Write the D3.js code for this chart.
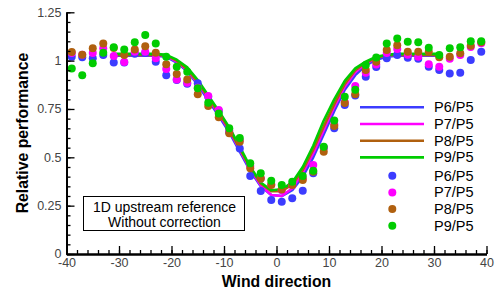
<!DOCTYPE html>
<html>
<head>
<meta charset="utf-8">
<script src="https://cdn.jsdelivr.net/npm/d3@7"></script>
<style>
  body { margin: 0; background: #fff; }
  text { font-family: "Liberation Sans", Arial, sans-serif; }
</style>
</head>
<body>
<svg id="chart"></svg>
<script>
// data
var angles = [-39,-37,-35,-33,-31,-29,-27,-25,-23,-21,-19,-17,-15,-13,-11,-9,-7,-5,-3,-1,
              1,3,5,7,9,11,13,15,17,19,21,23,25,27,29,31,33,35,37,39];
var p6Pts = [1.02,1.017,1.012,1.029,0.99,0.99,1.035,1.04,0.994,0.925,0.90,0.88,0.883,0.813,0.74,0.63,0.546,0.403,0.326,0.279,
             0.27,0.288,0.327,0.417,0.55,0.65,0.77,0.82,0.917,0.967,1.012,1.029,1.015,1.01,0.968,0.951,0.934,0.937,1.003,1.046];
var p7Pts = [1.04,1.03,1.04,1.064,1.024,0.993,1.046,1.046,1.012,0.957,0.903,0.886,0.86,0.817,0.745,0.64,0.589,0.455,0.39,0.36,
             0.33,0.355,0.39,0.46,0.55,0.67,0.785,0.869,0.937,0.98,1.04,1.06,1.03,1.02,0.981,0.968,1.01,1.029,1.07,1.09];
var p8Pts = [1.045,1.03,1.064,1.089,1.065,1.029,1.058,1.075,1.041,0.981,0.931,0.903,0.826,0.765,0.707,0.624,0.58,0.443,0.391,0.357,
             0.334,0.357,0.383,0.425,0.529,0.662,0.781,0.826,0.951,0.994,1.055,1.08,1.046,1.046,1.046,1.017,1.02,1.038,1.077,1.095];
var p9Pts = [0.959,0.925,0.986,1.041,1.069,1.058,1.095,1.132,1.089,1.02,0.968,0.943,0.857,0.782,0.727,0.65,0.6,0.469,0.417,0.379,
             0.357,0.374,0.403,0.431,0.555,0.69,0.813,0.85,0.977,1.016,1.089,1.115,1.098,1.095,1.067,1.029,1.064,1.069,1.1,1.1];

var lineAngles = [-31,-29,-27,-25,-23,-21,-19,-17,-15,-13,-11,-9,-7,-5,-3,-1,1,3,5,7,9,11,13,15,17,19,21,23,25,27,29,31];
var p6Line = [1.025,1.025,1.025,1.025,1.025,1.02,0.99,0.945,0.875,0.795,0.715,0.63,0.53,0.43,0.35,0.305,
              0.3,0.33,0.4,0.5,0.62,0.74,0.85,0.925,0.975,1.005,1.02,1.025,1.025,1.025,1.025,1.025];
var p7Line = [1.03,1.03,1.03,1.03,1.03,1.025,0.995,0.95,0.885,0.805,0.725,0.64,0.54,0.44,0.355,0.305,
              0.3,0.34,0.42,0.52,0.64,0.76,0.865,0.94,0.985,1.015,1.028,1.03,1.03,1.03,1.03,1.03];
var p8Line = [1.03,1.03,1.03,1.03,1.03,1.027,1.0,0.955,0.89,0.81,0.73,0.645,0.545,0.445,0.365,0.325,
              0.325,0.36,0.435,0.54,0.66,0.775,0.88,0.95,0.99,1.015,1.028,1.03,1.03,1.03,1.03,1.03];
var p9Line = [1.035,1.035,1.035,1.035,1.035,1.03,1.005,0.965,0.9,0.82,0.74,0.655,0.555,0.45,0.37,0.33,
              0.335,0.37,0.45,0.56,0.69,0.8,0.895,0.96,0.995,1.02,1.03,1.035,1.035,1.035,1.035,1.035];

var names = ["P6/P5", "P7/P5", "P8/P5", "P9/P5"];
var colors = ["#3c3cff", "#ff00ff", "#b0600f", "#00cc00"];
var xTicks = [-40,-30,-20,-10,0,10,20,30,40];
var yTicks = [0,0.25,0.5,0.75,1,1.25];
var yTickLabels = ["0","0.25","0.5","0.75","1","1.25"];

var width = 496, height = 293;
var plotLeft = 66.5, plotRight = 486.5, plotTop = 12.3, plotBottom = 254;

var svg = d3.select("#chart").attr("width", width).attr("height", height);

var x = d3.scaleLinear().domain([-40, 40]).range([plotLeft, plotRight]);
var y = d3.scaleLinear().domain([0, 1.25]).range([plotBottom, plotTop]);

// lines
var line = d3.line().x((d, i) => x(lineAngles[i])).y(d => y(d));
[p6Line, p7Line, p8Line, p9Line].forEach(function(s, k) {
    svg.append("path")
        .attr("d", line(s))
        .attr("fill", "none")
        .attr("stroke", colors[k])
        .attr("stroke-width", 2.6)
        .attr("stroke-linejoin", "round");
});

// points
[p6Pts, p7Pts, p8Pts, p9Pts].forEach(function(s, k) {
    svg.append("g").selectAll("circle")
        .data(s)
        .join("circle")
        .attr("cx", (d, i) => x(angles[i]))
        .attr("cy", d => y(d))
        .attr("r", 4)
        .attr("fill", colors[k]);
});

// axes
svg.append("g")
    .attr("transform", "translate(0," + plotBottom + ")")
    .call(d3.axisBottom(x).tickValues(d3.range(-40, 41, 2)).tickSize(-4).tickSizeOuter(0).tickFormat(""));
var xAxis = svg.append("g")
    .attr("transform", "translate(0," + plotBottom + ")")
    .call(d3.axisBottom(x).tickValues(xTicks).tickSize(-8).tickSizeOuter(0).tickPadding(5)
        .tickFormat(d => String(d)));
svg.append("g")
    .attr("transform", "translate(" + plotLeft + ",0)")
    .call(d3.axisLeft(y).tickValues(d3.range(0, 1.2501, 0.05)).tickSize(-4).tickSizeOuter(0).tickFormat(""));
var yAxis = svg.append("g")
    .attr("transform", "translate(" + plotLeft + ",0)")
    .call(d3.axisLeft(y).tickValues(yTicks).tickSize(-8).tickSizeOuter(0).tickPadding(5)
        .tickFormat((d, i) => yTickLabels[i]));

svg.selectAll(".domain").attr("stroke", "#000").attr("stroke-width", 2);
svg.selectAll(".tick line").attr("stroke", "#000").attr("stroke-width", 1.3);
svg.selectAll(".tick text")
    .attr("fill", "#444")
    .style("font-size", "12.5px")
    .style("font-family", "'Liberation Sans', Arial, sans-serif");
xAxis.selectAll(".tick text").attr("dy", "0.6em");
yAxis.selectAll(".tick text").attr("dy", "0.3em");

// axis titles
svg.append("text")
    .attr("x", (plotLeft + plotRight) / 2)
    .attr("y", 287)
    .attr("text-anchor", "middle")
    .style("font-size", "15.8px")
    .style("font-weight", "bold")
    .text("Wind direction");
svg.append("text")
    .attr("transform", "translate(27.5,133) rotate(-90)")
    .attr("text-anchor", "middle")
    .style("font-size", "15.8px")
    .style("font-weight", "bold")
    .text("Relative performance");

// annotation box
svg.append("rect")
    .attr("x", 83.5).attr("y", 196.5)
    .attr("width", 161).attr("height", 34)
    .attr("fill", "#fff").attr("stroke", "#000").attr("stroke-width", 1);
svg.append("text").attr("x", 164.5).attr("y", 212)
    .attr("text-anchor", "middle").style("font-size", "14px")
    .text("1D upstream reference");
svg.append("text").attr("x", 164.5).attr("y", 226.5)
    .attr("text-anchor", "middle").style("font-size", "14px")
    .text("Without correction");

// legend
var legend = svg.append("g");
names.forEach(function(n, k) {
    var ly = 107.3 + k * 16.7;
    legend.append("line")
        .attr("x1", 360).attr("x2", 424)
        .attr("y1", ly).attr("y2", ly)
        .attr("stroke", colors[k]).attr("stroke-width", 2.6);
    legend.append("text")
        .attr("x", 434).attr("y", ly + 5)
        .style("font-size", "14.5px")
        .text(n);
});
names.forEach(function(n, k) {
    var ly = 175.7 + k * 16.7;
    legend.append("circle")
        .attr("cx", 392.3).attr("cy", ly).attr("r", 4)
        .attr("fill", colors[k]);
    legend.append("text")
        .attr("x", 434).attr("y", ly + 5)
        .style("font-size", "14.5px")
        .text(n);
});
</script>
</body>
</html>
